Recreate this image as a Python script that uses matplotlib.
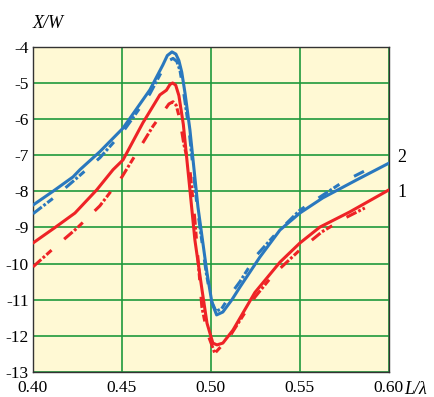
import numpy as np
import matplotlib.pyplot as plt

plt.rcParams['font.family'] = ['Liberation Serif', 'DejaVu Serif']
plt.rcParams['lines.scale_dashes'] = False

# Curva 2 (azul), continua
x_az = [0.400, 0.4112, 0.4225, 0.4264, 0.4376, 0.4506, 0.4657, 0.4730, 0.4755,
        0.4781, 0.4803, 0.4820, 0.4836, 0.4855, 0.4882, 0.4927, 0.4978, 0.5006,
        0.5032, 0.5067, 0.5118, 0.5163, 0.5275, 0.5388, 0.5500, 0.5629, 0.5820,
        0.6000]
y_az = [-8.38, -8.00, -7.60, -7.40, -6.90, -6.25, -5.19, -4.50, -4.24,
        -4.14, -4.20, -4.38, -4.70, -5.30, -6.30, -8.43, -10.26, -11.09,
        -11.42, -11.34, -11.00, -10.65, -9.82, -9.07, -8.60, -8.18, -7.68,
        -7.22]

# Curva 2 (azul), discontinua
x_az_d = [0.400, 0.4124, 0.4247, 0.4376, 0.4506, 0.4657, 0.4730, 0.4764, 0.4787,
          0.4808, 0.4826, 0.4845, 0.4877, 0.4922, 0.4972, 0.5000, 0.5028, 0.5060,
          0.5118, 0.5163, 0.5258, 0.5360, 0.5500, 0.5612, 0.5742, 0.5870]
y_az_d = [-8.62, -8.15, -7.63, -7.07, -6.35, -5.30, -4.62, -4.38, -4.32,
          -4.40, -4.65, -5.20, -6.30, -8.40, -10.20, -11.00, -11.32, -11.25,
          -10.80, -10.50, -9.76, -9.20, -8.52, -8.16, -7.74, -7.42]

# Curva 1 (roja), continua
x_ro = [0.400, 0.4124, 0.4236, 0.4358, 0.4450, 0.4506, 0.4618, 0.4713, 0.4750,
        0.4770, 0.4785, 0.4802, 0.4820, 0.4845, 0.4882, 0.4910, 0.4950, 0.4978,
        0.5011, 0.5034, 0.5067, 0.5124, 0.5247, 0.5388, 0.5500, 0.5612, 0.5780,
        0.6000]
y_ro = [-9.43, -9.00, -8.60, -7.96, -7.40, -7.13, -6.10, -5.33, -5.20,
        -5.04, -5.00, -5.06, -5.35, -6.15, -7.96, -9.35, -10.73, -11.65,
        -12.20, -12.25, -12.20, -11.84, -10.80, -9.96, -9.43, -8.99, -8.57,
        -7.96]

# Curva 1 (roja), discontinua
x_ro_d = [0.400, 0.4124, 0.4247, 0.4376, 0.4500, 0.4674, 0.4764, 0.4787, 0.4805,
          0.4825, 0.4848, 0.4882, 0.4910, 0.4949, 0.4978, 0.5022, 0.5106, 0.5118,
          0.5247, 0.5348, 0.5500, 0.5624, 0.5753, 0.5865]
y_ro_d = [-10.09, -9.54, -9.02, -8.40, -7.60, -6.20, -5.58, -5.52, -5.62,
          -6.00, -6.70, -7.40, -8.80, -11.20, -11.90, -12.48, -12.03, -11.92,
          -10.93, -10.32, -9.62, -9.12, -8.74, -8.46]

x_ticks = [0.40, 0.45, 0.50, 0.55, 0.60]
x_labels = ['0.40', '0.45', '0.50', '0.55', '0.60']
y_ticks = [-4, -5, -6, -7, -8, -9, -10, -11, -12, -13]

azul = '#2a78be'
rojo = '#ee2326'
verde = '#1f9a3c'
trazo = (0, (8, 1.5, 2, 1.5, 5, 12))

fig = plt.figure(figsize=(4.34, 3.97), dpi=100)
ax = fig.add_axes([0.076, 0.063, 0.82, 0.819])
ax.set_facecolor('#fff9d4')

ax.plot(x_az, y_az, color=azul, lw=2.2, solid_capstyle='round',
        solid_joinstyle='round', zorder=4)
ax.plot(x_az_d, y_az_d, color=azul, lw=2.2, linestyle=trazo, zorder=3)
ax.plot(x_ro, y_ro, color=rojo, lw=2.2, solid_capstyle='round',
        solid_joinstyle='round', zorder=4)
ax.plot(x_ro_d, y_ro_d, color=rojo, lw=2.2, linestyle=trazo, zorder=3)

ax.set_xlim(0.40, 0.60)
ax.set_ylim(-13, -4)
ax.set_xticks(x_ticks)
ax.set_xticklabels(x_labels)
ax.set_yticks(y_ticks)
ax.set_yticklabels([str(v) for v in y_ticks])
ax.tick_params(length=0, labelsize=12.5)
ax.tick_params(axis='x', pad=6)
ax.tick_params(axis='y', pad=3)
ax.grid(True, color=verde, lw=1.2)
ax.set_axisbelow(True)
for s in ax.spines.values():
    s.set_color('#333333')
    s.set_linewidth(1.0)

fig.text(0.076, 0.93, 'X/W', fontsize=13, style='italic')
fig.text(0.932, 0.008, 'L/λ', fontsize=13, style='italic', ha='left')
fig.text(0.915, 0.604, '2', fontsize=13, va='center')
fig.text(0.915, 0.516, '1', fontsize=13, va='center')

fig.savefig('out.png', dpi=100)
